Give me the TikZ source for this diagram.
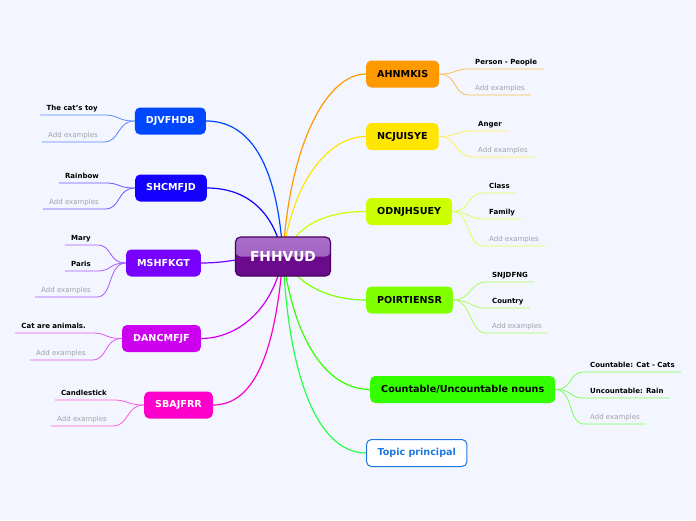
\documentclass[tikz,border=0pt]{standalone}
\usepackage{fontspec}
\setmainfont{DejaVu Sans}
\usepackage{tikz}
\usetikzlibrary{backgrounds}
\usepackage{xcolor}
\definecolor{paper}{RGB}{243,246,254}
\definecolor{hubdark}{RGB}{106,10,140}
\definecolor{hublight}{RGB}{168,110,200}
\definecolor{hubedge}{RGB}{74,0,96}
\definecolor{borange}{RGB}{255,153,0}
\definecolor{byellow}{RGB}{255,230,0}
\definecolor{blime}{RGB}{204,255,0}
\definecolor{bgreen}{RGB}{128,255,0}
\definecolor{bgreenb}{RGB}{51,255,0}
\definecolor{btopic}{RGB}{40,255,70}
\definecolor{tblue}{RGB}{30,120,224}
\definecolor{bblue}{RGB}{0,72,255}
\definecolor{bindigo}{RGB}{20,0,255}
\definecolor{bviolet}{RGB}{119,0,255}
\definecolor{bpurple}{RGB}{204,0,238}
\definecolor{bpink}{RGB}{255,0,204}
\definecolor{addgray}{RGB}{160,160,168}

\tikzset{
  topic/.style={rounded corners=5pt, minimum height=27pt, inner xsep=11pt,
    font=\fontsize{9.6}{11}\selectfont\bfseries},
  leaf/.style={inner xsep=6pt, inner ysep=3pt, text height=5.5pt, text depth=1.5pt,
    font=\fontsize{7}{8}\selectfont\bfseries},
  addex/.style={leaf, font=\fontsize{7}{8}\selectfont, text=addgray},
  ln/.style={line width=1.2pt},
  sub/.style={line width=0.8pt}
}

\begin{document}
\begin{tikzpicture}[x=1pt, y=-1pt]
  \useasboundingbox (0,0) rectangle (696,520);

  % central topic
  \node[rounded corners=5pt, minimum width=95pt, minimum height=39pt, fill=hubdark,
        draw=hubedge, line width=1.2pt, text=white, font=\fontsize{13.8}{15}\selectfont\bfseries,
        path picture={\fill[top color=hublight, bottom color=hublight!80!hubdark]
          (path picture bounding box.north west) rectangle (path picture bounding box.east);}]
        (c) at (283,256.5) {FHHVUD};

  % right branches
  \node[topic, fill=borange, anchor=west] (ahn) at (366,74) {AHNMKIS};
  \node[topic, fill=byellow, anchor=west] (ncj) at (366,136.5) {NCJUISYE};
  \node[topic, fill=blime, anchor=west] (odn) at (366,211.5) {ODNJHSUEY};
  \node[topic, fill=bgreen, anchor=west] (poi) at (366,300) {POIRTIENSR};
  \node[topic, fill=bgreenb, anchor=west] (cnt) at (370,389.5) {Countable/Uncountable nouns};
  \node[topic, fill=white, draw=tblue, line width=1pt, text=tblue, anchor=west] (tp) at (366,453) {Topic principal};

  % left branches
  \node[topic, fill=bblue, text=white, anchor=east] (djv) at (206,121) {DJVFHDB};
  \node[topic, fill=bindigo, text=white, anchor=east] (shc) at (207,188) {SHCMFJD};
  \node[topic, fill=bviolet, text=white, anchor=east] (msh) at (201,263) {MSHFKGT};
  \node[topic, fill=bpurple, text=white, anchor=east] (dan) at (201,338.5) {DANCMFJF};
  \node[topic, fill=bpink, text=white, anchor=east] (sba) at (213,405) {SBAJFRR};

  % leaves, right side
  \node[leaf, anchor=south west] (ahn1) at (469,69) {Person - People};
  \node[addex, anchor=south west] (ahn2) at (469,95) {Add examples};
  \node[leaf, anchor=south west] (ncj1) at (472,131) {Anger};
  \node[addex, anchor=south west] (ncj2) at (472,157) {Add examples};
  \node[leaf, anchor=south west] (odn1) at (483,193) {Class};
  \node[leaf, anchor=south west] (odn2) at (483,219) {Family};
  \node[addex, anchor=south west] (odn3) at (483,246) {Add examples};
  \node[leaf, anchor=south west] (poi1) at (486,282) {SNJDFNG};
  \node[leaf, anchor=south west] (poi2) at (486,308) {Country};
  \node[addex, anchor=south west] (poi3) at (486,333) {Add examples};
  \node[leaf, anchor=south west] (cnt1) at (584,372) {Countable: Cat - Cats};
  \node[leaf, anchor=south west] (cnt2) at (584,398) {Uncountable: Rain};
  \node[addex, anchor=south west] (cnt3) at (584,424) {Add examples};

  % leaves, left side
  \node[leaf, anchor=south east] (djv1) at (104,115) {The cat's toy};
  \node[addex, anchor=south east] (djv2) at (104,142) {Add examples};
  \node[leaf, anchor=south east] (shc1) at (105,183) {Rainbow};
  \node[addex, anchor=south east] (shc2) at (105,209) {Add examples};
  \node[leaf, anchor=south east] (msh1) at (97,245) {Mary};
  \node[leaf, anchor=south east] (msh2) at (97,271) {Paris};
  \node[addex, anchor=south east] (msh3) at (97,297) {Add examples};
  \node[leaf, anchor=south east] (dan1) at (92,333) {Cat are animals.};
  \node[addex, anchor=south east] (dan2) at (92,360) {Add examples};
  \node[leaf, anchor=south east] (sba1) at (113,400) {Candlestick};
  \node[addex, anchor=south east] (sba2) at (113,426) {Add examples};

  \begin{scope}[on background layer]
    \fill[paper] (0,0) rectangle (696,520);
    % main connectors
    \draw[ln, borange] (c.center) .. controls +(6,-110) and +(-40,0) .. (ahn.west);
    \draw[ln, byellow] (c.center) .. controls +(8,-70) and +(-40,0) .. (ncj.west);
    \draw[ln, blime] (c.center) .. controls +(15,-35) and +(-35,0) .. (odn.west);
    \draw[ln, bgreen] (c.center) .. controls +(15,30) and +(-35,0) .. (poi.west);
    \draw[ln, bgreenb] (c.center) .. controls +(10,80) and +(-45,0) .. (cnt.west);
    \draw[ln, btopic] (c.center) .. controls +(6,130) and +(-45,0) .. (tp.west);
    \draw[ln, bblue] (c.center) .. controls +(-6,-100) and +(40,0) .. (djv.east);
    \draw[ln, bindigo] (c.center) .. controls +(-10,-50) and +(35,0) .. (shc.east);
    \draw[ln, bviolet] (c.center) .. controls +(-40,0) and +(30,0) .. (msh.east);
    \draw[ln, bpurple] (c.center) .. controls +(-10,55) and +(35,0) .. (dan.east);
    \draw[ln, bpink] (c.center) .. controls +(-8,100) and +(40,0) .. (sba.east);

    % leaf connectors, right
    \foreach \p/\l/\col in {ahn/ahn1/borange, ahn/ahn2/borange, ncj/ncj1/byellow, ncj/ncj2/byellow,
        odn/odn1/blime, odn/odn2/blime, odn/odn3/blime, poi/poi1/bgreen, poi/poi2/bgreen,
        poi/poi3/bgreen, cnt/cnt1/bgreenb, cnt/cnt2/bgreenb, cnt/cnt3/bgreenb}
      \draw[sub, \col!65] (\p.east) .. controls +(18,0) and +(-16,0) .. (\l.south west) -- (\l.south east);
    % leaf connectors, left
    \foreach \p/\l/\col in {djv/djv1/bblue, djv/djv2/bblue, shc/shc1/bindigo, shc/shc2/bindigo,
        msh/msh1/bviolet, msh/msh2/bviolet, msh/msh3/bviolet, dan/dan1/bpurple, dan/dan2/bpurple,
        sba/sba1/bpink, sba/sba2/bpink}
      \draw[sub, \col!65] (\p.west) .. controls +(-18,0) and +(16,0) .. (\l.south east) -- (\l.south west);
  \end{scope}
\end{tikzpicture}
\end{document}
